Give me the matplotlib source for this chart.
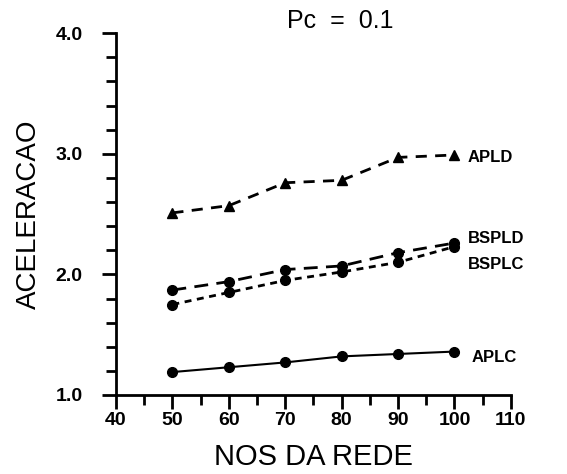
import matplotlib
matplotlib.use("Agg")
import matplotlib.pyplot as plt
from matplotlib.ticker import MultipleLocator, FormatStrFormatter

nos = [50, 60, 70, 80, 90, 100]
apld = [2.51, 2.57, 2.76, 2.78, 2.97, 2.99]
bspld = [1.87, 1.94, 2.04, 2.07, 2.18, 2.26]
bsplc = [1.75, 1.85, 1.95, 2.02, 2.10, 2.23]
aplc = [1.19, 1.23, 1.27, 1.32, 1.34, 1.36]

plt.rcParams['font.family'] = ['Liberation Sans', 'DejaVu Sans']

fig = plt.figure(figsize=(5.67, 4.74), dpi=100)
ax = fig.add_axes([0.2046, 0.1667, 0.6964, 0.7633])

ax.plot(nos, apld, color='black', lw=2, ls=(0, (4, 3)), marker='^', ms=6.5)
ax.plot(nos, bspld, color='black', lw=2, ls=(0, (5, 3)), marker='o', ms=7)
ax.plot(nos, bsplc, color='black', lw=2, ls=(0, (2.5, 2)), marker='o', ms=7)
ax.plot(nos, aplc, color='black', lw=1.5, ls='-', marker='o', ms=7)

lab = dict(fontsize=12, fontweight='bold', va='center', ha='left')
ax.text(102.3, 2.97, 'APLD', **lab)
ax.text(102.3, 2.30, 'BSPLD', **lab)
ax.text(102.3, 2.08, 'BSPLC', **lab)
ax.text(103, 1.31, 'APLC', **lab)

ax.set_xlim(40, 110)
ax.set_ylim(1.0, 4.0)
ax.xaxis.set_major_locator(MultipleLocator(10))
ax.xaxis.set_minor_locator(MultipleLocator(5))
ax.yaxis.set_major_locator(MultipleLocator(1.0))
ax.yaxis.set_minor_locator(MultipleLocator(0.2))
ax.yaxis.set_major_formatter(FormatStrFormatter('%.1f'))
ax.tick_params(which='major', length=10, width=2, labelsize=14, direction='out')
ax.tick_params(which='minor', length=7, width=2, direction='out')
ax.tick_params(axis='y', which='major', pad=14)
ax.tick_params(axis='x', which='major', pad=2)
for t in ax.get_xticklabels() + ax.get_yticklabels():
    t.set_fontweight('bold')

for s in ['top', 'right']:
    ax.spines[s].set_visible(False)
for s in ['left', 'bottom']:
    ax.spines[s].set_linewidth(2)

ax.set_xlabel('NOS DA REDE', fontsize=21, labelpad=10)
ax.set_ylabel('ACELERACAO', fontsize=20, labelpad=10)
fig.text(0.6, 0.955, 'Pc  =  0.1', fontsize=18, ha='center', va='center')

fig.savefig('out.png', dpi=100)
